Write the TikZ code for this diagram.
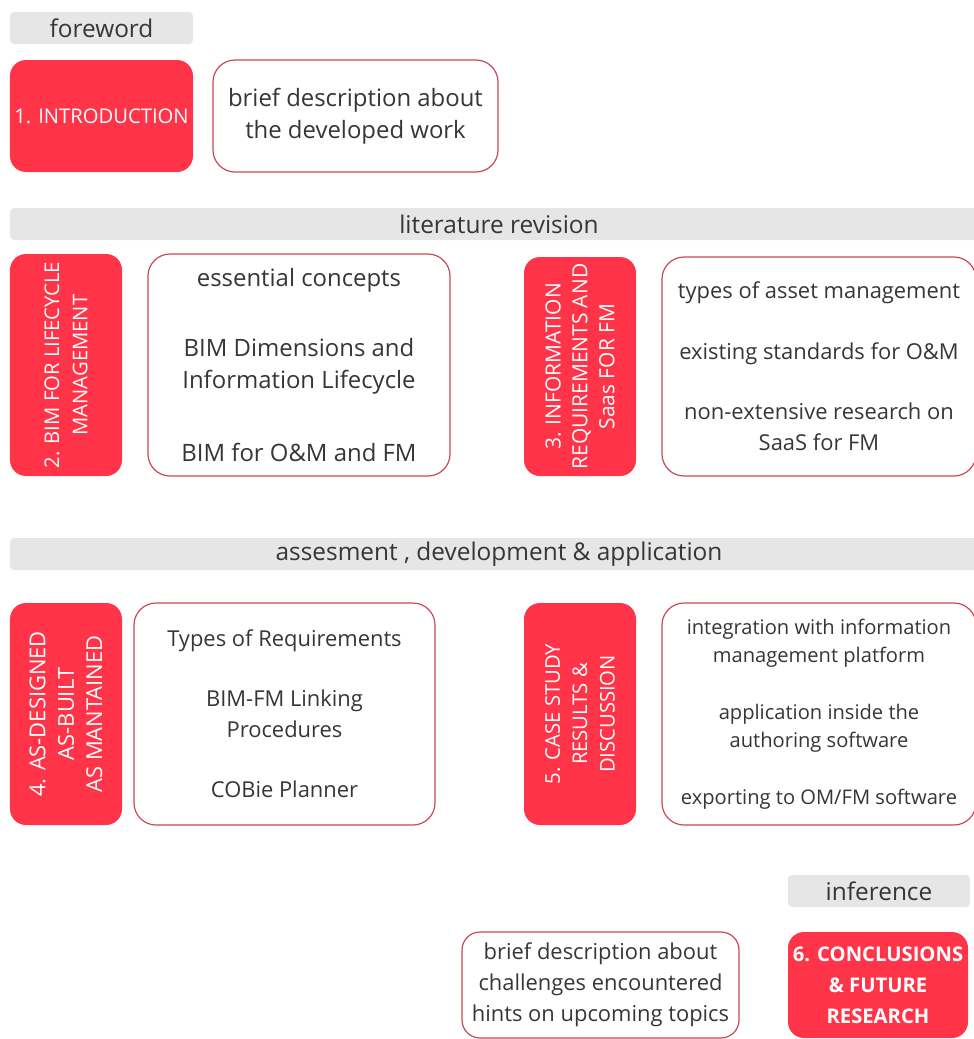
\documentclass[tikz,border=0pt]{standalone}
\usepackage{fontspec}
\setmainfont{Open Sans}
\definecolor{figred}{HTML}{FF3448}
\definecolor{edgered}{HTML}{C9485A}
\definecolor{barfill}{HTML}{E6E6E6}
\definecolor{ink}{HTML}{363636}
\newcommand{\bodysize}{\fontsize{22}{31}\selectfont}
\newcommand{\largebody}{\fontsize{24}{32}\selectfont}
\newcommand{\smallbody}{\fontsize{20.2}{28}\selectfont}
\tikzset{
  bar/.style     = {fill=barfill, rounded corners=4bp, inner sep=0pt, text=ink,
                    font=\fontsize{24.5}{28}\selectfont},
  chapter/.style = {fill=figred, rounded corners=16bp, text=white, align=center,
                    inner sep=0pt, font=\fontsize{20.3}{28.5}\selectfont},
  summary/.style = {draw=edgered, line width=1.2pt, fill=white, rounded corners=22bp,
                    text=ink, align=center, inner sep=0pt, font=\bodysize},
}

\begin{document}
\begin{tikzpicture}[x=1bp, y=-1bp]
  \useasboundingbox (0,0) rectangle (974,1039);

  % ---------- foreword -------------------------------------------------------
  \node[bar, minimum width=183bp, minimum height=32bp] (foreword) at (101.5,28) {foreword};
  \node[chapter, minimum width=183bp, minimum height=112bp] (intro) at (101.5,116)
    {1. INTRODUCTION};
  \node[summary, minimum width=285bp, minimum height=112bp, font=\largebody] (introtext) at (355.5,116)
    {brief description about\\the developed work};

  % ---------- literature revision --------------------------------------------
  \node[bar, minimum width=970bp, minimum height=32bp] (litbar) at (495,224) {};
  \node[text=ink, font=\fontsize{24.5}{28}\selectfont] (littitle) at (499,224) {literature revision};

  \node[chapter, rotate=90, minimum width=222bp, minimum height=112bp] (bim) at (66,365)
    {2. BIM FOR LIFECYCLE\\MANAGEMENT};
  \node[summary, minimum width=302bp, minimum height=222bp, font=\largebody] (bimtext) at (299,365)
    {essential concepts\\[38bp]BIM Dimensions and\\Information Lifecycle\\[41bp]BIM for O\&M and FM};

  \node[chapter, rotate=90, minimum width=219bp, minimum height=112bp,
        font=\fontsize{21}{27}\selectfont] (inforeq) at (580,366.5)
    {3. INFORMATION\\REQUIREMENTS AND\\Saas FOR FM};
  \node[summary, minimum width=314bp, minimum height=219bp] (inforeqtext) at (819,366.5)
    {types of asset management\\[30bp]existing standards for O\&M\\[29bp]non-extensive research on\\SaaS for FM};

  % ---------- assesment, development & application ---------------------------
  \node[bar, minimum width=970bp, minimum height=32bp] (devbar) at (495,554) {};
  \node[text=ink, font=\fontsize{24.5}{28}\selectfont] (devtitle) at (499,554)
    {assesment , development \& application};

  \node[chapter, rotate=90, minimum width=222bp, minimum height=112bp,
        font=\fontsize{22}{28.5}\selectfont] (asbuilt) at (66,714)
    {4. AS-DESIGNED\\AS-BUILT\\AS MANTAINED};
  \node[summary, minimum width=301bp, minimum height=222bp] (asbuilttext) at (284.5,714)
    {Types of Requirements\\[29bp]BIM-FM Linking\\Procedures\\[29bp]COBie Planner};

  \node[chapter, rotate=90, minimum width=222bp, minimum height=112bp,
        font=\fontsize{20.3}{27.5}\selectfont] (casestudy) at (580,714)
    {5. CASE STUDY\\RESULTS \&\\DISCUSSION};
  \node[summary, minimum width=314bp, minimum height=222bp, font=\smallbody] (casetext) at (819,714)
    {integration with information\\management platform\\[29bp]application inside the\\authoring software\\[29bp]exporting to OM/FM software};

  % ---------- inference ------------------------------------------------------
  \node[bar, minimum width=182bp, minimum height=32bp] (inference) at (879,891) {inference};
  \node[summary, minimum width=277bp, minimum height=106bp, rounded corners=18bp,
        font=\fontsize{22}{31}\selectfont] (outlook) at (600.5,985)
    {brief description about\\challenges encountered\\hints on upcoming topics};
  \node[chapter, minimum width=180bp, minimum height=106bp,
        font=\bfseries\fontsize{20.3}{31}\selectfont] (conclusions) at (878,985)
    {6. CONCLUSIONS\\\& FUTURE\\RESEARCH};
\end{tikzpicture}
\end{document}
